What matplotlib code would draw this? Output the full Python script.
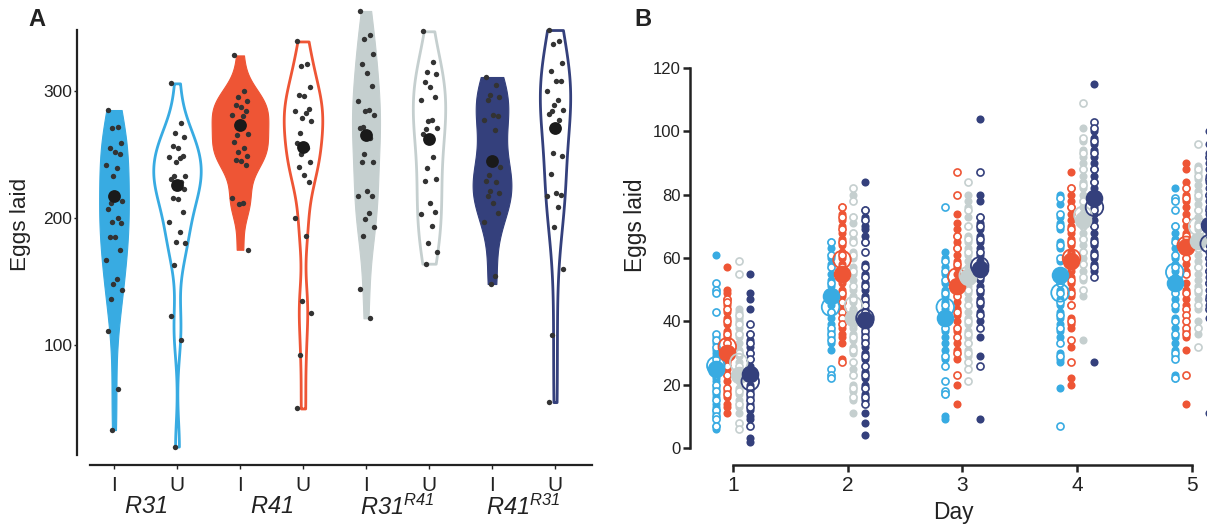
import numpy as np
import matplotlib
matplotlib.use("Agg")
import matplotlib.pyplot as plt
from matplotlib.transforms import blended_transform_factory

plt.rcParams['font.family'] = 'Liberation Sans'
plt.rcParams['mathtext.fontset'] = 'custom'
plt.rcParams['mathtext.it'] = 'Liberation Sans:italic'
plt.rcParams['mathtext.rm'] = 'Liberation Sans:italic'

# ---- panel A: total eggs per female ----
a_r31_I = [285, 272, 271, 259, 255, 252, 250, 242, 239, 233, 213, 212, 207, 200, 197, 196, 185, 185, 175, 167, 152, 148, 143, 136, 111, 65, 33]
a_r31_U = [306, 275, 267, 264, 257, 255, 249, 248, 247, 244, 233, 233, 231, 228, 224, 223, 216, 215, 205, 197, 189, 181, 180, 163, 123, 104, 20]
a_r41_I = [328, 300, 295, 292, 289, 287, 284, 281, 280, 271, 266, 265, 260, 255, 252, 249, 246, 245, 242, 216, 212, 211, 175]
a_r41_U = [339, 321, 320, 303, 297, 296, 286, 284, 283, 279, 276, 267, 259, 255, 250, 244, 240, 234, 228, 200, 186, 135, 125, 92, 50]
a_r31r41_I = [363, 344, 341, 329, 321, 314, 304, 292, 285, 284, 281, 272, 271, 263, 250, 244, 244, 221, 217, 217, 204, 199, 193, 186, 144, 121]
a_r31r41_U = [347, 323, 315, 313, 307, 303, 295, 293, 277, 276, 271, 270, 266, 248, 239, 231, 229, 212, 205, 203, 194, 180, 173, 164]
a_r41r31_I = [311, 305, 297, 295, 293, 281, 280, 277, 269, 243, 240, 234, 229, 228, 221, 220, 217, 212, 204, 197, 154, 148]
a_r41r31_U = [348, 339, 337, 322, 316, 308, 308, 300, 293, 289, 285, 284, 282, 277, 251, 249, 235, 220, 218, 217, 209, 193, 160, 108, 55]
a_means = [217, 226, 273, 256, 265, 262, 245, 271]
a_ticklabels = ['I', 'U', 'I', 'U', 'I', 'U', 'I', 'U']
a_groups = [r'$R31$', r'$R41$', r'$R31^{R41}$', r'$R41^{R31}$']

# ---- panel B: eggs per day (filled = I, open = U) ----
days = [1, 2, 3, 4, 5]
b_r31_I = [[61, 35, 33, 31, 30, 29, 27, 26, 25, 24, 22, 21, 19, 17, 16, 14, 13, 12, 11, 7, 6],
           [65, 63, 60, 58, 55, 53, 51, 49, 47, 45, 43, 41, 39, 37, 35, 33, 31],
           [62, 60, 57, 55, 52, 50, 48, 46, 44, 42, 40, 37, 35, 33, 31, 28, 17, 10, 9],
           [80, 77, 73, 71, 69, 65, 63, 59, 56, 53, 50, 47, 45, 43, 41, 39, 37, 35, 30, 28, 27, 19],
           [82, 70, 68, 66, 63, 60, 58, 56, 54, 50, 47, 44, 41, 38, 35, 33, 31, 29, 23, 22]]
b_r31_U = [[52, 50, 49, 43, 36, 34, 32, 28, 26, 23, 20, 18, 15, 12, 10, 9, 7],
           [65, 61, 57, 52, 47, 43, 38, 36, 34, 25, 23, 22],
           [76, 59, 56, 53, 49, 45, 38, 29, 26, 21, 18, 17],
           [79, 74, 70, 64, 60, 56, 52, 49, 46, 42, 38, 33, 29, 7],
           [79, 78, 75, 70, 65, 61, 57, 53, 49, 45, 40, 36, 30, 28, 22]]
b_r41_I = [[57, 50, 49, 47, 45, 43, 41, 39, 37, 35, 33, 31, 29, 27, 25, 23, 21, 18, 16, 14, 13, 11],
           [76, 74, 72, 70, 68, 66, 64, 62, 60, 58, 56, 54, 52, 50, 48, 44, 38, 36, 35, 33, 28],
           [74, 71, 69, 67, 65, 63, 61, 59, 57, 55, 51, 49, 46, 44, 42, 40, 37, 33, 31, 28, 20, 14],
           [87, 82, 80, 78, 76, 74, 72, 70, 68, 66, 64, 62, 60, 58, 56, 54, 52, 50, 48, 45, 41, 39, 38, 32, 22, 20],
           [90, 88, 84, 80, 78, 76, 74, 72, 70, 68, 66, 64, 62, 60, 58, 56, 52, 50, 47, 45, 37, 35, 31, 14]]
b_r41_U = [[47, 46, 44, 40, 36, 33, 31, 28, 26, 23, 19, 17],
           [76, 73, 69, 65, 61, 57, 53, 49, 46, 43, 41, 39, 27],
           [87, 80, 67, 63, 58, 52, 48, 43, 38, 35, 30, 23],
           [82, 76, 69, 65, 61, 57, 53, 49, 45, 40, 34, 27],
           [82, 79, 72, 67, 60, 55, 49, 44, 42, 40, 38, 36, 23]]
b_r31r41_I = [[44, 43, 41, 40, 38, 36, 35, 33, 31, 29, 27, 25, 23, 21, 19, 17, 15, 13, 11],
              [80, 73, 71, 68, 66, 62, 60, 57, 55, 53, 50, 48, 46, 44, 42, 40, 38, 36, 34, 32, 30, 25, 23, 20, 18, 15, 11],
              [80, 78, 76, 73, 70, 67, 65, 63, 61, 59, 57, 55, 53, 51, 49, 47, 45, 43, 41, 39, 37, 35, 33, 31, 29],
              [101, 97, 94, 92, 90, 88, 86, 84, 82, 80, 78, 76, 74, 72, 70, 68, 66, 64, 62, 60, 58, 56, 53, 48, 34],
              [89, 87, 85, 83, 81, 79, 77, 75, 73, 71, 69, 67, 65, 63, 61, 59, 57, 55, 53, 51, 49, 47, 44, 40, 36]]
b_r31r41_U = [[59, 55, 42, 39, 36, 30, 26, 22, 18, 14, 8, 6],
              [82, 78, 73, 68, 65, 61, 56, 51, 47, 43, 39, 35, 31, 27, 23, 19, 16],
              [84, 75, 70, 66, 62, 56, 50, 45, 40, 36, 33, 30, 27, 25, 21],
              [109, 98, 93, 88, 83, 78, 74, 70, 66, 62, 58, 54, 50],
              [96, 88, 86, 80, 75, 70, 63, 57, 50, 45, 38, 32]]
b_r41r31_I = [[55, 49, 47, 44, 36, 34, 32, 30, 28, 26, 24, 22, 20, 18, 16, 14, 12, 10, 9, 3, 2],
              [84, 75, 73, 70, 69, 67, 65, 58, 55, 52, 50, 48, 46, 44, 42, 40, 38, 36, 34, 32, 30, 28, 24, 22, 20, 17, 15, 11, 8, 4],
              [104, 80, 78, 73, 71, 69, 67, 65, 63, 61, 59, 57, 55, 53, 51, 49, 47, 45, 43, 40, 35, 29, 9],
              [115, 100, 98, 96, 94, 92, 90, 88, 86, 84, 82, 80, 78, 76, 74, 72, 70, 68, 66, 64, 62, 60, 58, 56, 27],
              [100, 96, 93, 90, 88, 86, 84, 82, 80, 78, 76, 74, 72, 70, 68, 66, 64, 62, 60, 58, 56, 54, 52, 50, 48, 45, 41, 11]]
b_r41r31_U = [[39, 36, 33, 30, 28, 25, 22, 19, 17, 15, 13, 7],
              [75, 72, 65, 62, 57, 54, 51, 47, 45, 43, 39, 37, 35, 33, 29, 26, 23, 19, 16, 14],
              [87, 73, 70, 66, 62, 58, 54, 50, 46, 42, 38, 26],
              [103, 101, 97, 93, 88, 84, 79, 75, 70, 65, 61, 57, 54],
              [92, 85, 80, 75, 70, 65, 60, 56, 52, 47, 44]]
b_r31_I_mean = [25, 48, 41, 54.5, 52]
b_r31_U_mean = [26, 44.5, 44.5, 49, 55.5]
b_r41_I_mean = [30, 55, 51, 59, 63.5]
b_r41_U_mean = [32, 59.5, 54, 60, 64]
b_r31r41_I_mean = [23, 41, 54, 72, 65.5]
b_r31r41_U_mean = [27, 45, 54.5, 73.5, 70]
b_r41r31_I_mean = [23.5, 40.5, 56.5, 79, 70.5]
b_r41r31_U_mean = [21, 41, 57.5, 76, 64.5]

blue = '#38ABE2'
red = '#EE5535'
grey = '#C5CFCF'
navy = '#34407C'
ink = '#222222'

W, H = 1207, 529
fig = plt.figure(figsize=(W / 100, H / 100), dpi=100)


def px_axes(x0, y0, x1, y1):
    return fig.add_axes([x0 / W, 1 - y1 / H, (x1 - x0) / W, (y1 - y0) / H])


def kde(vals, grid):
    v = np.asarray(vals, float)
    q75, q25 = np.percentile(v, [75, 25])
    h = 0.9 * min(v.std(ddof=1), (q75 - q25) / 1.34) * len(v) ** -0.2
    z = (grid[:, None] - v[None, :]) / h
    return np.exp(-0.5 * z ** 2).sum(axis=1) / (len(v) * h * np.sqrt(2 * np.pi))


# ================= A =================
axA = px_axes(77, 5, 592, 465)
a_data = [a_r31_I, a_r31_U, a_r41_I, a_r41_U, a_r31r41_I, a_r31r41_U, a_r41r31_I, a_r41r31_U]
a_cols = [blue, blue, red, red, grey, grey, navy, navy]
jit = np.array([-0.1, 0.06, -0.03, 0.11, -0.07, 0.02, 0.09, -0.12, 0.04, -0.01, 0.12, -0.05])

grids, dens = [], []
for vals in a_data:
    g = np.linspace(min(vals), max(vals), 400)
    grids.append(g)
    dens.append(kde(vals, g))
gmax = max(d.max() for d in dens)

for i, vals in enumerate(a_data):
    half = dens[i] / gmax * 0.45
    if i % 2 == 0:
        axA.fill_betweenx(grids[i], i - half, i + half, facecolor=a_cols[i],
                          edgecolor=a_cols[i], lw=0.8, zorder=1)
    else:
        axA.fill_betweenx(grids[i], i - half, i + half, facecolor='white',
                          edgecolor=a_cols[i], lw=2.0, zorder=1)
    xs = i + jit[np.arange(len(vals)) % len(jit)]
    axA.scatter(xs, vals, s=15, color='#333333', lw=0, zorder=3)
axA.scatter(range(8), a_means, s=85, color='#1a1a1a', lw=0, zorder=4)

axA.set_xlim(-0.587, 7.587)
axA.set_ylim(5.5, 367.7)
for s in ['top', 'right']:
    axA.spines[s].set_visible(False)
axA.spines['left'].set_bounds(13, 348)
axA.spines['bottom'].set_bounds(-0.38, 7.587)
for s in ['left', 'bottom']:
    axA.spines[s].set_linewidth(1.6)
    axA.spines[s].set_color(ink)
axA.set_yticks([100, 200, 300])
axA.tick_params(axis='y', length=2, width=1, labelsize=12.5, pad=1.5, colors=ink)
axA.set_xticks(range(8))
axA.set_xticklabels(a_ticklabels)
axA.tick_params(axis='x', length=3, width=1, labelsize=15, pad=5, colors=ink)
axA.set_ylabel('Eggs laid', fontsize=16.2, color=ink)
axA.yaxis.label.set_va('center')
axA.yaxis.set_label_coords(-0.110, 0.524)
trA = blended_transform_factory(axA.transData, axA.transAxes)
for k, lab in enumerate(a_groups):
    axA.text(2 * k + 0.5, -0.091, lab, transform=trA, ha='center', va='center',
             fontsize=17, color=ink)

# ================= B =================
axB = px_axes(690, 55, 1207, 465)
b_I = [b_r31_I, b_r41_I, b_r31r41_I, b_r41r31_I]
b_U = [b_r31_U, b_r41_U, b_r31r41_U, b_r41r31_U]
b_Im = [b_r31_I_mean, b_r41_I_mean, b_r31r41_I_mean, b_r41r31_I_mean]
b_Um = [b_r31_U_mean, b_r41_U_mean, b_r31r41_U_mean, b_r41r31_U_mean]
b_cols = [blue, red, grey, navy]
offs = [-0.15, -0.05, 0.05, 0.15]

for g in range(4):
    for d, day in enumerate(days):
        x = day + offs[g]
        axB.scatter(np.full(len(b_I[g][d]), x), b_I[g][d], s=34, color=b_cols[g], lw=0, zorder=2)
        axB.scatter(np.full(len(b_U[g][d]), x), b_U[g][d], s=26, facecolor='white',
                    edgecolor=b_cols[g], lw=1.2, zorder=2)
    xm = np.array(days) + offs[g]
    axB.scatter(xm, b_Im[g], s=160, color=b_cols[g], lw=0, zorder=3)
    axB.scatter(xm, b_Um[g], s=160, facecolor='none', edgecolor=b_cols[g], lw=1.3, zorder=3)

axB.set_xlim(0.625, 5.131)
axB.set_ylim(-5.37, 124.1)
for s in ['top', 'right']:
    axB.spines[s].set_visible(False)
axB.spines['left'].set_bounds(0, 120)
axB.spines['bottom'].set_bounds(1, 5)
for s in ['left', 'bottom']:
    axB.spines[s].set_linewidth(1.8)
    axB.spines[s].set_color(ink)
axB.set_yticks([0, 20, 40, 60, 80, 100, 120])
axB.set_xticks(days)
axB.tick_params(axis='y', length=5, width=1.8, labelsize=12, pad=1.5, colors=ink)
axB.tick_params(axis='x', length=5, width=1.8, labelsize=15, pad=3, colors=ink)
axB.set_ylabel('Eggs laid', fontsize=16.4, color=ink)
axB.yaxis.label.set_va('center')
axB.yaxis.set_label_coords(-0.106, 0.585)
axB.set_xlabel('Day', fontsize=16.4, color=ink)
axB.xaxis.label.set_va('center')
axB.xaxis.set_label_coords(0.509, -0.117)

fig.text(37 / W, 1 - 20 / H, 'A', fontsize=17, fontweight='bold', ha='center', va='center', color=ink)
fig.text(643 / W, 1 - 20 / H, 'B', fontsize=17, fontweight='bold', ha='center', va='center', color=ink)

fig.savefig('out.png', dpi=100, facecolor='white')
